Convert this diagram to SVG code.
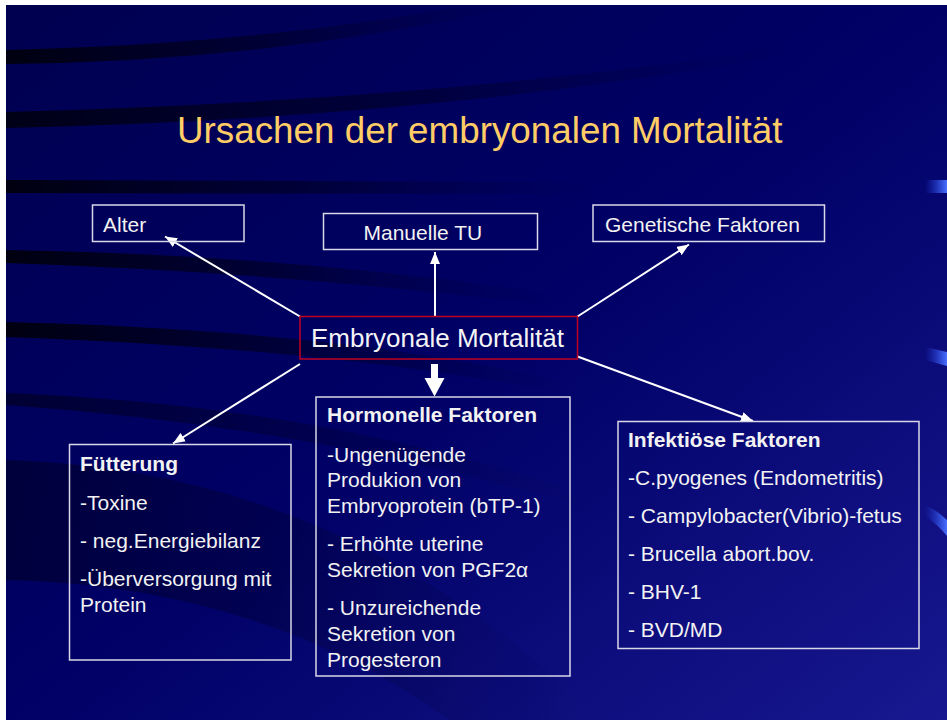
<svg xmlns="http://www.w3.org/2000/svg" width="947" height="720" viewBox="0 0 947 720">
  <defs>
    <linearGradient id="bg" x1="0" y1="0" x2="1" y2="1">
      <stop offset="0" stop-color="#000050"/>
      <stop offset="0.5" stop-color="#000066"/>
      <stop offset="1" stop-color="#181890"/>
    </linearGradient>
    <linearGradient id="swoosh" x1="0" y1="0" x2="1" y2="0">
      <stop offset="0" stop-color="#000010" stop-opacity="1"/>
      <stop offset="0.5" stop-color="#000020" stop-opacity="0.6"/>
      <stop offset="1" stop-color="#000040" stop-opacity="0"/>
    </linearGradient>
    <linearGradient id="sliver" x1="0" y1="0" x2="1" y2="0">
      <stop offset="0" stop-color="#2040e0" stop-opacity="0"/>
      <stop offset="1" stop-color="#4a70ff" stop-opacity="1"/>
    </linearGradient>
    <marker id="ah" markerWidth="12" markerHeight="10" refX="12" refY="5" orient="auto" markerUnits="userSpaceOnUse">
      <path d="M0,0 L12,5 L0,10 z" fill="#ffffff"/>
    </marker>
    <style>
      .box { fill: none; stroke: #d8d8e8; stroke-width: 1.5; }
      .main { fill: none; stroke: #c00020; stroke-width: 1.5; }
      .t { font-family: "Liberation Sans", Arial, sans-serif; font-size: 21px; fill: #f2f2f2; }
      .b { font-weight: bold; }
      .title { font-family: "Liberation Sans", Arial, sans-serif; font-size: 36.8px; fill: #ffcc66; }
      .big { font-family: "Liberation Sans", Arial, sans-serif; font-size: 26px; fill: #f4f4f4; }
      .conn line { stroke: #ffffff; stroke-width: 2; marker-end: url(#ah); }
    </style>
  </defs>

  <!-- background -->
  <rect x="0" y="0" width="947" height="720" fill="#ffffff"/>
  <rect x="6" y="5" width="941" height="715" fill="url(#bg)"/>
  <g id="swooshes">
    <path d="M6,50 Q260,44 470,5 L525,5 Q270,62 6,64 Z" fill="url(#swoosh)"/>
    <path d="M6,112 Q450,100 800,45 L800,52 Q450,118 6,128 Z" fill="url(#swoosh)" opacity="0.9"/>
    <path d="M6,180 L600,182 L600,194 L6,193 Z" fill="url(#swoosh)"/>
    <path d="M6,250 Q300,255 560,295 L560,307 Q300,273 6,263 Z" fill="url(#swoosh)"/>
    <path d="M6,322 Q350,330 580,385 L580,397 Q350,349 6,337 Z" fill="url(#swoosh)"/>
    <path d="M6,393 Q330,405 600,500 L600,512 Q330,428 6,405 Z" fill="url(#swoosh)" opacity="0.55"/>
    <path d="M6,460 Q350,470 600,720 L450,720 Q260,585 6,580 Z" fill="url(#swoosh)" opacity="0.45"/>
    <path d="M925,180 L947,180 L947,193 L925,193 Z" fill="url(#sliver)"/>
    <path d="M925,347 L947,352 L947,366 L925,360 Z" fill="url(#sliver)"/>
    <path d="M925,505 Q937,510 947,520 L947,536 Q937,524 925,516 Z" fill="url(#sliver)"/>
  </g>

  <text class="title" x="177" y="143">Ursachen der embryonalen Mortalität</text>

  <g class="conn" id="connectors">
    <line x1="300" y1="316.5" x2="165" y2="236.5"/>
    <line x1="435" y1="316.5" x2="435" y2="252"/>
    <line x1="577.5" y1="316.5" x2="689" y2="244.5"/>
    <line x1="300" y1="364" x2="173" y2="443.5"/>
    <line x1="577.5" y1="356.5" x2="753" y2="421"/>
    <path d="M431,364 L438,364 L438,378 L444.5,378 L434.5,396.5 L424.5,378 L431,378 Z" fill="#ffffff"/>
  </g>

  <g id="alter">
    <rect class="box" x="92.5" y="205" width="151.5" height="36.5"/>
    <text class="t" x="103" y="232">Alter</text>
  </g>
  <g id="manuelle">
    <rect class="box" x="323.5" y="213.5" width="214" height="36"/>
    <text class="t" x="363.5" y="240">Manuelle TU</text>
  </g>
  <g id="genetische">
    <rect class="box" x="593" y="205" width="231.5" height="36.5"/>
    <text class="t" x="605" y="232">Genetische Faktoren</text>
  </g>
  <g id="embryonale">
    <rect class="main" x="300" y="316.5" width="277.5" height="42.5"/>
    <text class="big" x="311" y="347">Embryonale Mortalität</text>
  </g>
  <g id="fuetterung">
    <rect class="box" x="69.5" y="444.5" width="221.5" height="215.5"/>
    <text class="t b" x="80" y="471">Fütterung</text>
    <text class="t" x="80" y="510">-Toxine</text>
    <text class="t" x="80" y="548">- neg.Energiebilanz</text>
    <text class="t" x="80" y="586">-Überversorgung mit</text>
    <text class="t" x="80" y="612">Protein</text>
  </g>
  <g id="hormonelle">
    <rect class="box" x="316" y="397" width="254" height="279"/>
    <text class="t b" x="327" y="422">Hormonelle Faktoren</text>
    <text class="t" x="327" y="462">-Ungenügende</text>
    <text class="t" x="327" y="487">Produkion von</text>
    <text class="t" x="327" y="513">Embryoprotein (bTP-1)</text>
    <text class="t" x="327" y="551">- Erhöhte uterine</text>
    <text class="t" x="327" y="577">Sekretion von PGF2α</text>
    <text class="t" x="327" y="615">- Unzureichende</text>
    <text class="t" x="327" y="641">Sekretion von</text>
    <text class="t" x="327" y="667">Progesteron</text>
  </g>
  <g id="infektioese">
    <rect class="box" x="618" y="421.5" width="301" height="227"/>
    <text class="t b" x="628" y="447">Infektiöse Faktoren</text>
    <text class="t" x="628" y="485">-C.pyogenes (Endometritis)</text>
    <text class="t" x="628" y="523">- Campylobacter(Vibrio)-fetus</text>
    <text class="t" x="628" y="561">- Brucella abort.bov.</text>
    <text class="t" x="628" y="599">- BHV-1</text>
    <text class="t" x="628" y="637">- BVD/MD</text>
  </g>
</svg>
